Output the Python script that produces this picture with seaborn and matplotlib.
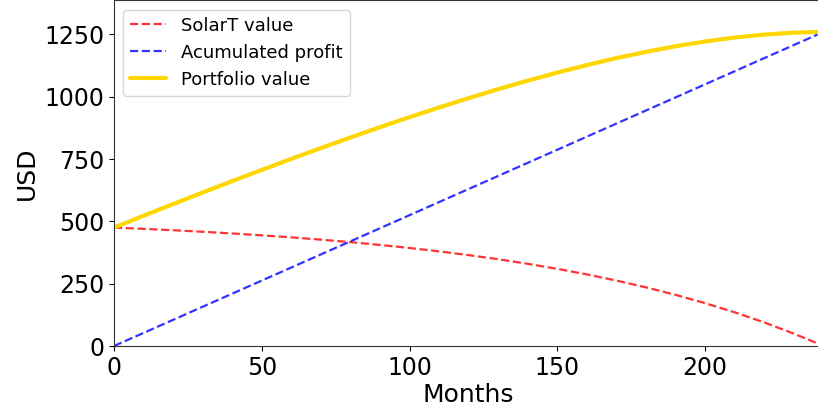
import numpy as np
import matplotlib
matplotlib.use('Agg')
import matplotlib.pyplot as plt
import seaborn as sns
import pandas as pd

# values, every 10 months
months = [0, 10, 20, 30, 40, 50, 60, 70, 80, 90, 100, 110, 120,
          130, 140, 150, 160, 170, 180, 190, 200, 210, 220, 230, 238]
solart_value = [475.0, 470.0, 464.4, 458.3, 451.5, 444.0, 435.8, 426.6, 416.6,
                405.4, 393.1, 379.5, 364.5, 348.0, 329.6, 309.4, 287.1, 262.4,
                235.1, 205.0, 171.7, 135.0, 94.4, 49.5, 10.3]
acc_profit = [0.0, 52.5, 105.0, 157.5, 210.0, 262.5, 315.0, 367.5, 420.0,
              472.5, 525.0, 577.5, 630.0, 682.5, 735.0, 787.5, 840.0, 892.5,
              945.0, 997.5, 1050.0, 1102.5, 1155.0, 1207.5, 1249.5]
portfolio = [475.0, 522.5, 569.4, 615.8, 661.5, 706.5, 750.8, 794.1, 836.6,
             877.9, 918.1, 957.0, 994.5, 1030.5, 1064.6, 1096.9, 1127.1, 1154.9,
             1180.1, 1202.5, 1221.7, 1237.5, 1249.4, 1257.0, 1259.8]
y_ticks = [0, 250, 500, 750, 1000, 1250]

df = pd.DataFrame({'month': months, 'solart': solart_value,
                   'profit': acc_profit, 'portfolio': portfolio})

sns.set_style('ticks')
plt.rcParams['font.family'] = ['DejaVu Sans']
plt.rcParams['text.color'] = 'black'
plt.rcParams['axes.labelcolor'] = 'black'
plt.rcParams['xtick.color'] = 'black'
plt.rcParams['ytick.color'] = 'black'

fig = plt.figure(figsize=(8.18, 4.15), dpi=100)
ax = fig.add_axes([114 / 818, 69 / 415, (822 - 114) / 818, (415 - 69 - 0.5) / 415])

sns.lineplot(data=df, x='month', y='solart', ax=ax, color='red', linestyle='--',
             linewidth=1.6, alpha=0.8, label='SolarT value')
sns.lineplot(data=df, x='month', y='profit', ax=ax, color='blue', linestyle='--',
             linewidth=1.6, alpha=0.8, label='Acumulated profit')
sns.lineplot(data=df, x='month', y='portfolio', ax=ax, color='gold',
             linewidth=3, label='Portfolio value')

ax.set_xlim(0, 239.5)
ax.set_ylim(0, 1386)
ax.set_yticks(y_ticks)
ax.set_xticks([0, 50, 100, 150, 200])
ax.tick_params(labelsize=17)
ax.set_xlabel('Months', fontsize=18, labelpad=2)
ax.set_ylabel('USD', fontsize=18)
ax.legend(loc='upper left', fontsize=13)
for s in ax.spines.values():
    s.set_color('#333333')

fig.savefig('out.png', dpi=100)
plt.close()
